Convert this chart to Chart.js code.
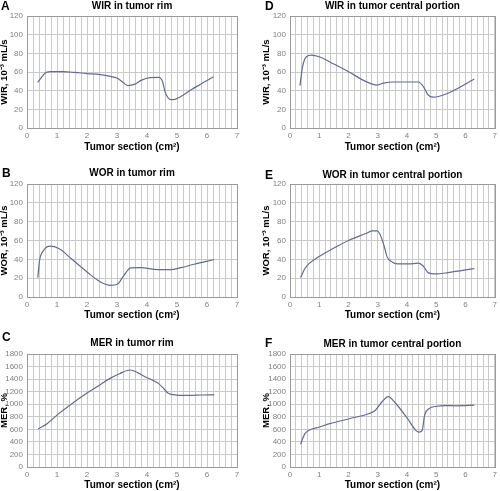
<!DOCTYPE html>
<html>
<head>
<meta charset="utf-8">
<script src="https://cdn.jsdelivr.net/npm/chart.js@4.4.1/dist/chart.umd.min.js"></script>
<style>
    body { margin: 0; background: #fff; width: 500px; height: 491px; position: relative; overflow: hidden;
           font-family: 'Liberation Sans', Arial, sans-serif; }
    canvas { position: absolute; }
    .letter { position: absolute; font-weight: bold; font-size: 12px; line-height: 12px; color: #000; }
    .ttl { position: absolute; font-weight: bold; font-size: 10px; line-height: 12px; text-align: center; white-space: nowrap; color: #000; }
</style>
</head>
<body>
<script>
// values
var wirRimX = [0.36, 0.5, 0.63, 0.8, 1.2, 1.6, 2.0, 2.4, 2.75, 3.0, 3.2, 3.36, 3.6, 3.8, 4.1, 4.4, 4.52, 4.6, 4.71, 4.8, 4.93, 5.5, 6.0, 6.22];
var wirRimY = [49, 55, 59.5, 60.3, 60.3, 59.5, 58.3, 57.5, 55.5, 53.5, 49, 45.5, 47, 51, 54, 54.3, 49.6, 39, 32, 30.3, 30.7, 41.5, 51, 55];

var worRimX = [0.36, 0.42, 0.56, 0.76, 1.06, 1.5, 2.0, 2.45, 2.79, 3.01, 3.23, 3.46, 3.79, 4.35, 4.79, 5.13, 5.57, 6.24];
var worRimY = [20.6, 39, 49.7, 54, 51.5, 40, 26.6, 16, 12.4, 13.5, 23, 31, 31.2, 29, 29, 31.2, 34.8, 39.8];

var merRimX = [0.37, 0.67, 1.06, 1.45, 2.0, 2.4, 2.77, 3.1, 3.44, 3.7, 3.93, 4.2, 4.38, 4.55, 4.71, 4.99, 5.43, 5.8, 6.24];
var merRimY = [605, 690, 850, 993, 1179, 1300, 1412, 1490, 1545, 1500, 1438, 1380, 1332, 1253, 1174, 1146, 1140, 1147, 1150];

var wirCenX = [0.34, 0.43, 0.56, 0.73, 1.0, 1.5, 2.0, 2.6, 2.98, 3.2, 3.5, 4.0, 4.39, 4.56, 4.72, 4.89, 5.4, 6.3];
var wirCenY = [45.4, 65.7, 76.3, 78, 76.3, 68.5, 60.3, 49.7, 46, 48, 49.3, 49.3, 49.3, 44.4, 35.5, 33, 37.3, 52.5];

var worCenX = [0.36, 0.51, 0.65, 1.01, 1.5, 2.02, 2.59, 2.81, 2.98, 3.09, 3.21, 3.32, 3.49, 3.71, 4.05, 4.39, 4.56, 4.72, 4.95, 5.4, 6.3];
var worCenY = [20.6, 30.2, 35.5, 43.3, 52, 60.3, 67.4, 70.3, 70.3, 65.7, 55, 42.6, 37.3, 35.1, 35.1, 35.9, 32.7, 25.9, 24.5, 25.9, 30.2];

var merCenX = [0.36, 0.51, 0.65, 1.01, 1.36, 2.02, 2.69, 2.91, 3.13, 3.36, 3.58, 4.02, 4.3, 4.41, 4.52, 4.6, 4.75, 5.02, 5.3, 5.7, 6.3];
var merCenY = [361, 531, 584, 637, 690, 769, 848, 900, 1031, 1121, 1031, 769, 584, 557, 584, 821, 927, 968, 979, 975, 985];

var xMax = 7;
var flowMax = 120, flowStep = 20;
var merMax = 1800, merStep = 200;
var xTitle = 'Tumor section (cm²)';

// layout of the 2x3 grid
var cols = [
    { left: 0,   yW: 27, padR: 13, yTitlePad: 0 },
    { left: 250, yW: 40, padR: 3,  yTitlePad: 12 }
];
var rows = [
    { top: 0,   h: 160, padT: 16, xH: 32, xTitlePad: 7 },
    { top: 160, h: 165, padT: 24, xH: 28, xTitlePad: 4 },
    { top: 325, h: 166, padT: 29, xH: 24, xTitlePad: 0 }
];

var panels = [
    { letter: 'A', title: 'WIR in tumor rim', xs: wirRimX, ys: wirRimY, max: flowMax, step: flowStep, yTitle: 'WIR, 10⁻³ mL/s', col: 0, row: 0, lx: 1, ly: 0, ty: 0 },
    { letter: 'B', title: 'WOR in tumor rim', xs: worRimX, ys: worRimY, max: flowMax, step: flowStep, yTitle: 'WOR, 10⁻³ mL/s', col: 0, row: 1, lx: 2, ly: 167, ty: 167 },
    { letter: 'C', title: 'MER in tumor rim', xs: merRimX, ys: merRimY, max: merMax, step: merStep, yTitle: 'MER, %', col: 0, row: 2, lx: 2, ly: 331, ty: 337 },
    { letter: 'D', title: 'WIR in tumor central portion', xs: wirCenX, ys: wirCenY, max: flowMax, step: flowStep, yTitle: 'WIR, 10⁻³ mL/s', col: 1, row: 0, lx: 265, ly: 0, ty: 0 },
    { letter: 'E', title: 'WOR in tumor central portion', xs: worCenX, ys: worCenY, max: flowMax, step: flowStep, yTitle: 'WOR, 10⁻³ mL/s', col: 1, row: 1, lx: 265, ly: 169, ty: 169 },
    { letter: 'F', title: 'MER in tumor central portion', xs: merCenX, ys: merCenY, max: merMax, step: merStep, yTitle: 'MER, %', col: 1, row: 2, lx: 265, ly: 337, ty: 338 }
];

// frame around the plot area
var framePlugin = {
    id: 'frame',
    afterDraw: function(chart) {
        var a = chart.chartArea, ctx = chart.ctx;
        ctx.save();
        ctx.strokeStyle = '#9a9a9a';
        ctx.lineWidth = 1;
        ctx.strokeRect(Math.round(a.left) + 0.5, Math.round(a.top) + 0.5, Math.round(a.right - a.left), Math.round(a.bottom - a.top));
        ctx.restore();
    }
};

panels.forEach(function(p) {
    var c = cols[p.col], r = rows[p.row];

    var canvas = document.createElement('canvas');
    canvas.width = 250;
    canvas.height = r.h;
    canvas.style.left = c.left + 'px';
    canvas.style.top = r.top + 'px';
    document.body.appendChild(canvas);

    var letter = document.createElement('div');
    letter.className = 'letter';
    letter.textContent = p.letter;
    letter.style.left = p.lx + 'px';
    letter.style.top = p.ly + 'px';
    document.body.appendChild(letter);

    var pts = p.xs.map(function(x, i) { return { x: x, y: p.ys[i] }; });

    var chart = new Chart(canvas.getContext('2d'), {
        type: 'line',
        data: {
            datasets: [{
                data: pts,
                borderColor: '#626a98',
                borderWidth: 1.2,
                pointRadius: 0,
                fill: false,
                cubicInterpolationMode: 'monotone'
            }]
        },
        options: {
            responsive: false,
            animation: false,
            layout: { padding: { top: r.padT, right: c.padR, left: 0, bottom: 0 } },
            plugins: { legend: { display: false }, tooltip: { enabled: false } },
            scales: {
                x: {
                    type: 'linear', min: 0, max: xMax,
                    afterFit: function(s) { s.height = r.xH; },
                    grid: { color: '#cacaca', drawTicks: false },
                    border: { color: '#9a9a9a' },
                    ticks: {
                        stepSize: 0.2, autoSkip: false, maxRotation: 0, padding: 3,
                        color: '#808080', font: { size: 8, family: 'Liberation Sans' },
                        callback: function(v) { return Math.abs(v - Math.round(v)) < 1e-6 ? String(Math.round(v)) : ''; }
                    },
                    title: {
                        display: true, text: xTitle, color: '#000',
                        font: { size: 10, weight: 'bold', family: 'Liberation Sans' },
                        padding: { top: 0, bottom: r.xTitlePad }
                    }
                },
                y: {
                    min: 0, max: p.max,
                    afterFit: function(s) { s.width = c.yW; },
                    grid: { color: '#cacaca', drawTicks: false },
                    border: { color: '#9a9a9a' },
                    ticks: {
                        stepSize: p.step, padding: 4, autoSkip: false,
                        color: '#808080', font: { size: 8, family: 'Liberation Sans' },
                        callback: function(v) { return String(v); }
                    },
                    title: {
                        display: true, text: p.yTitle, color: '#000',
                        font: { size: 9.5, weight: 'bold', family: 'Liberation Sans', lineHeight: 1 },
                        padding: { top: c.yTitlePad, bottom: 0 }
                    }
                }
            }
        },
        plugins: [framePlugin]
    });

    var a = chart.chartArea;
    var t = document.createElement('div');
    t.className = 'ttl';
    t.textContent = p.title;
    t.style.left = (c.left + a.left) + 'px';
    t.style.width = (a.right - a.left) + 'px';
    t.style.top = p.ty + 'px';
    document.body.appendChild(t);
});
</script>
</body>
</html>
